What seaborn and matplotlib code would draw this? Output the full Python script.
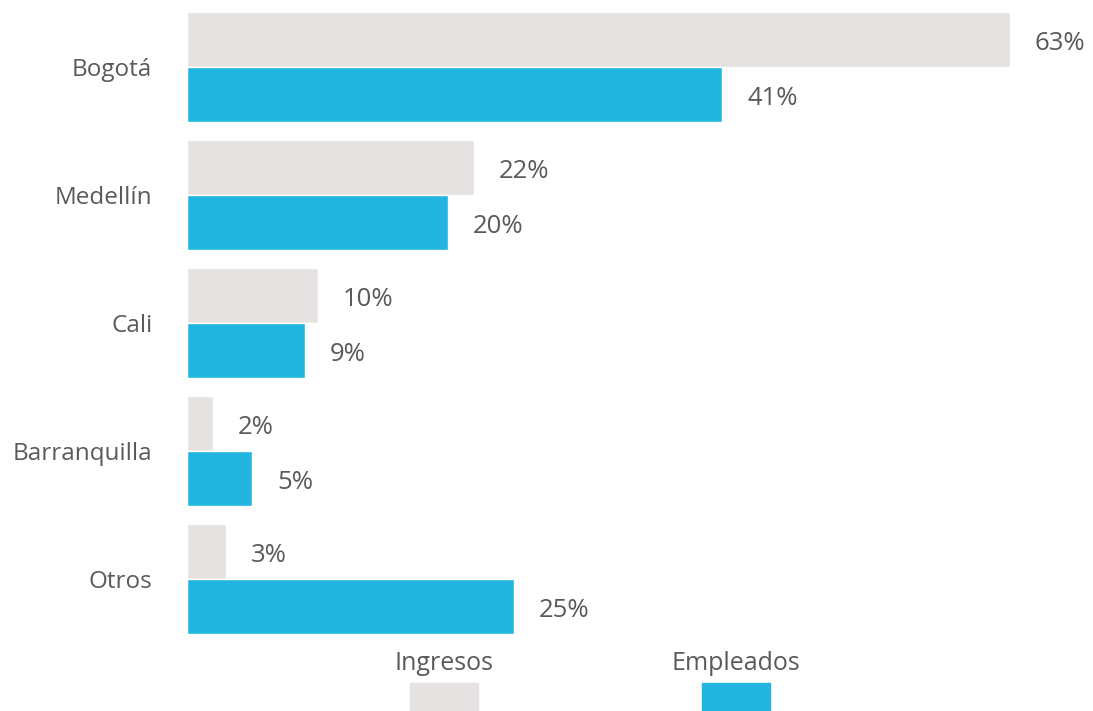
import matplotlib
matplotlib.use("Agg")
import matplotlib.pyplot as plt
from matplotlib.patches import Rectangle
import seaborn as sns
import pandas as pd

categories = ["Bogotá", "Medellín", "Cali", "Barranquilla", "Otros"]
ingresos = [63, 22, 10, 2, 3]
empleados = [41, 20, 9, 5, 25]
series_names = ["Ingresos", "Empleados"]
colors = ["#E6E2E2", "#22B5E0"]
text_color = "#5a5a5a"

df = pd.DataFrame({
    "Ciudad": categories * 2,
    "Serie": [series_names[0]] * len(categories) + [series_names[1]] * len(categories),
    "Valor": ingresos + empleados,
})

sns.set_theme(style="white")
plt.rcParams["font.family"] = ["Open Sans", "DejaVu Sans"]

fig = plt.figure(figsize=(10.93, 7.11), dpi=100)
ax = fig.add_axes([187 / 1093, (711 - 643) / 711, (1093 - 187) / 1093, 640 / 711])

sns.barplot(data=df, y="Ciudad", x="Valor", hue="Serie", order=categories,
            hue_order=series_names, palette=colors, orient="h", width=0.86,
            saturation=1, ax=ax, legend=False)

ax.set_xlim(0, (1093 - 187) / 13.06)
for s in ax.spines.values():
    s.set_visible(False)
ax.set_xlabel("")
ax.set_ylabel("")
ax.set_xticks([])
ax.tick_params(axis="y", length=0, pad=25, labelsize=17.5, labelcolor=text_color)

for cont in ax.containers:
    for bar in cont:
        w = bar.get_width()
        ax.text(w + 1.9, bar.get_y() + bar.get_height() / 2 + 0.03, f"{w:.0f}%",
                va="center", ha="left", fontsize=18.5, color=text_color)

# legend: labels above colour patches
for name, col, cx in zip(series_names, colors, [444, 736]):
    fig.patches.append(Rectangle(((cx - 34) / 1093, 0), 68 / 1093, 28 / 711,
                                 transform=fig.transFigure, color=col))
    fig.text(cx / 1093, (711 - 664) / 711, name, ha="center", va="center",
             fontsize=18, color=text_color)

fig.savefig("out.png", dpi=100, facecolor="white")
